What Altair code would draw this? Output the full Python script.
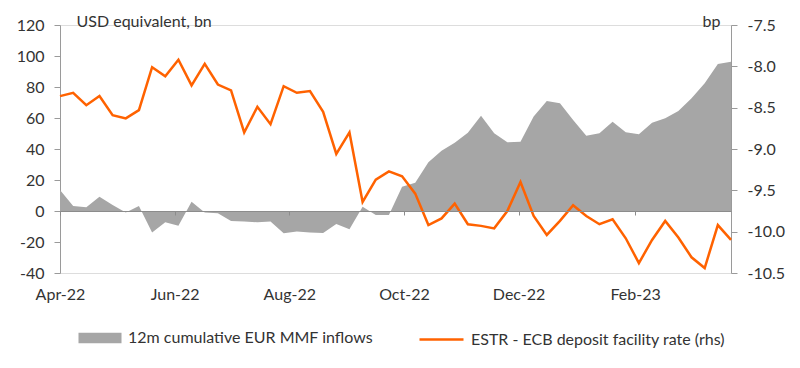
import altair as alt
import pandas as pd

dates = pd.date_range("2022-04-01", periods=52, freq="7D")

mmf_inflows = [13.5, 3.2, 2.4, 9.2, 3.9, -0.9, 3.2, -13.8, -7.3, -9.5,
               6.0, -0.9, -1.5, -6.5, -6.7, -7.3, -6.7, -14.4, -13.3, -13.8,
               -14.2, -8.4, -11.8, 2.8, -2.6, -2.6, 15.7, 18.3, 31.4, 38.9,
               44.1, 50.5, 61.5, 50.1, 44.3, 44.7, 60.9, 71.0, 69.5, 58.7,
               48.6, 50.1, 57.6, 50.8, 49.5, 57.0, 59.8, 64.5, 72.7, 82.4,
               94.8, 96.3]

estr_spread = [-8.36, -8.32, -8.47, -8.36, -8.59, -8.63, -8.53, -8.01, -8.12, -7.92,
               -8.23, -7.97, -8.22, -8.29, -8.80, -8.49, -8.70, -8.24, -8.32, -8.30,
               -8.55, -9.06, -8.80, -9.64, -9.37, -9.27, -9.33, -9.54, -9.92, -9.84,
               -9.66, -9.91, -9.93, -9.96, -9.75, -9.40, -9.81, -10.04, -9.87, -9.68,
               -9.81, -9.91, -9.85, -10.08, -10.38, -10.10, -9.87, -10.07, -10.31, -10.44,
               -9.92, -10.10]

series_area = "12m cumulative EUR MMF inflows"
series_line = "ESTR - ECB deposit facility rate (rhs)"

left_ticks = [-40, -20, 0, 20, 40, 60, 80, 100, 120]
right_ticks = [-10.5, -10.0, -9.5, -9.0, -8.5, -8.0, -7.5]
month_ticks = [(2022, 4), (2022, 6), (2022, 8), (2022, 10), (2022, 12), (2023, 2)]

df = pd.DataFrame({
    "date": dates,
    "mmf": mmf_inflows,
    "estr": estr_spread,
    "s1": series_area,
    "s2": series_line,
})

W, H = 671, 248
FONT = "Lato"
TXT = "#333333"
AXC = "#9a9a9a"

tick_vals = [alt.DateTime(year=y, month=m, date=1) for y, m in month_ticks]
x_domain = [alt.DateTime(year=2022, month=4, date=1), alt.DateTime(year=2023, month=3, date=24)]
minus_fix = "replace(datum.label, '\u2212', '-')"

area = alt.Chart(df).mark_area(opacity=1).encode(
    x=alt.X("date:T", scale=alt.Scale(domain=x_domain),
            axis=alt.Axis(orient="bottom", values=tick_vals, format="%b-%y", domain=False,
                          ticks=False, labelFlush=False, labelPadding=13, labelFontSize=16,
                          labelColor=TXT, grid=False, title=None, labelFont=FONT)),
    y=alt.Y("mmf:Q", scale=alt.Scale(domain=[-40, 120], nice=False),
            axis=alt.Axis(orient="left", values=left_ticks, grid=False, domainColor=AXC,
                          tickColor=AXC, tickSize=6, labelPadding=10, labelFontSize=16,
                          labelColor=TXT, labelFont=FONT, labelExpr=minus_fix,
                          title="USD equivalent, bn", titleAngle=0, titleX=16, titleY=-4,
                          titleAlign="left", titleBaseline="middle", titleFontWeight="normal",
                          titleFontSize=16, titleColor=TXT, titleFont=FONT)),
    fill=alt.Fill("s1:N", scale=alt.Scale(domain=[series_area], range=["#a6a6a6"]),
                  legend=alt.Legend(orient="none", legendX=18, legendY=291, title=None,
                                    symbolType="M-1,-0.24H1V0.24H-1Z", symbolSize=1850,
                                    symbolStrokeWidth=0, symbolOpacity=1, labelFontSize=16,
                                    labelColor=TXT, labelFont=FONT, labelOffset=6,
                                    labelLimit=500)),
)

line = alt.Chart(df).mark_line(strokeWidth=2.5).encode(
    x=alt.X("date:T", scale=alt.Scale(domain=x_domain),
            axis=alt.Axis(orient="bottom", values=tick_vals, offset=-H / 4, labels=False,
                          domain=True, domainColor="#8c8c8c", ticks=True, tickSize=4,
                          tickColor="#8c8c8c", grid=False, title=None, zindex=1)),
    y=alt.Y("estr:Q", scale=alt.Scale(domain=[-10.5, -7.5], nice=False, zero=False),
            axis=alt.Axis(orient="right", values=right_ticks, format=".1f", grid=False,
                          domainColor=AXC, tickColor=AXC, tickSize=6, labelPadding=10,
                          labelFontSize=16, labelColor=TXT, labelFont=FONT, labelExpr=minus_fix,
                          title="bp", titleAngle=0, titleX=-20, titleY=-4, titleAlign="center",
                          titleBaseline="middle", titleFontWeight="normal", titleFontSize=16,
                          titleColor=TXT, titleFont=FONT)),
    stroke=alt.Stroke("s2:N", scale=alt.Scale(domain=[series_line], range=["#ff6200"]),
                      legend=alt.Legend(orient="none", legendX=358, legendY=291, title=None,
                                        symbolType="stroke", symbolSize=1936,
                                        symbolStrokeWidth=2.5, labelFontSize=16,
                                        labelColor=TXT, labelFont=FONT, labelOffset=6,
                                        labelLimit=500)),
)

chart = alt.layer(area, line).resolve_scale(y="independent").resolve_axis(
    x="independent", y="independent"
).properties(
    width=W, height=H, padding={"left": 8, "top": 5, "right": 5, "bottom": 5}
).configure_view(stroke=None).configure(font=FONT)

chart.save("out.html", embed_options={"renderer": "svg", "actions": False})
